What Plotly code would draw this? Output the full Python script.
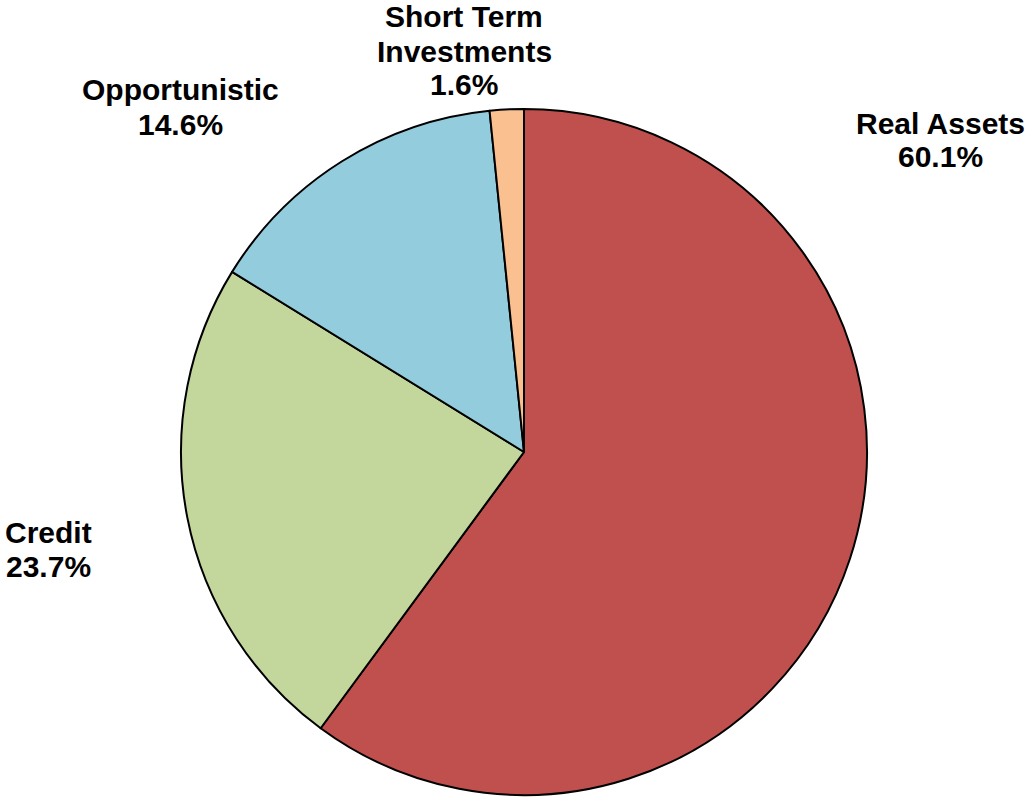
import plotly.graph_objects as go

# Portfolio allocation by strategy
categories = ["Real Assets", "Credit", "Opportunistic", "Short Term Investments"]
shares = [60.1, 23.7, 14.6, 1.6]
label_lines = [["Real Assets"], ["Credit"], ["Opportunistic"], ["Short Term", "Investments"]]
colors = ["#C0504D", "#C3D69B", "#93CDDD", "#FAC090"]

W, H = 1025, 798
cx, cy, r = 524, 452, 343

fig = go.Figure(
    go.Pie(
        labels=categories,
        values=shares,
        sort=False,
        direction="clockwise",
        rotation=0,
        marker=dict(colors=colors, line=dict(color="#000000", width=2)),
        textinfo="none",
        hoverinfo="label+percent",
        domain=dict(x=[(cx - r) / W, (cx + r) / W], y=[1 - (cy + r) / H, 1 - (cy - r) / H]),
        showlegend=False,
    )
)

# label anchor (centre x, first-line centre y) in pixels
label_pos = [(940, 123), (48, 532), (180, 90), (464, 17)]
line_gap = 34

font = dict(family="Liberation Sans, Arial, sans-serif", size=30, color="#000000")
for lines, val, (lx, ly) in zip(label_lines, shares, label_pos):
    rows = lines + [f"{val:.1f}%"]
    for i, t in enumerate(rows):
        fig.add_annotation(
            x=lx / W, y=1 - (ly + i * line_gap) / H,
            xref="paper", yref="paper",
            text=f"<b>{t}</b>", showarrow=False,
            xanchor="center", yanchor="middle", font=font,
        )

fig.update_layout(
    width=W, height=H,
    margin=dict(l=0, r=0, t=0, b=0),
    paper_bgcolor="#FFFFFF", plot_bgcolor="#FFFFFF",
)

fig.write_html("out.html")
